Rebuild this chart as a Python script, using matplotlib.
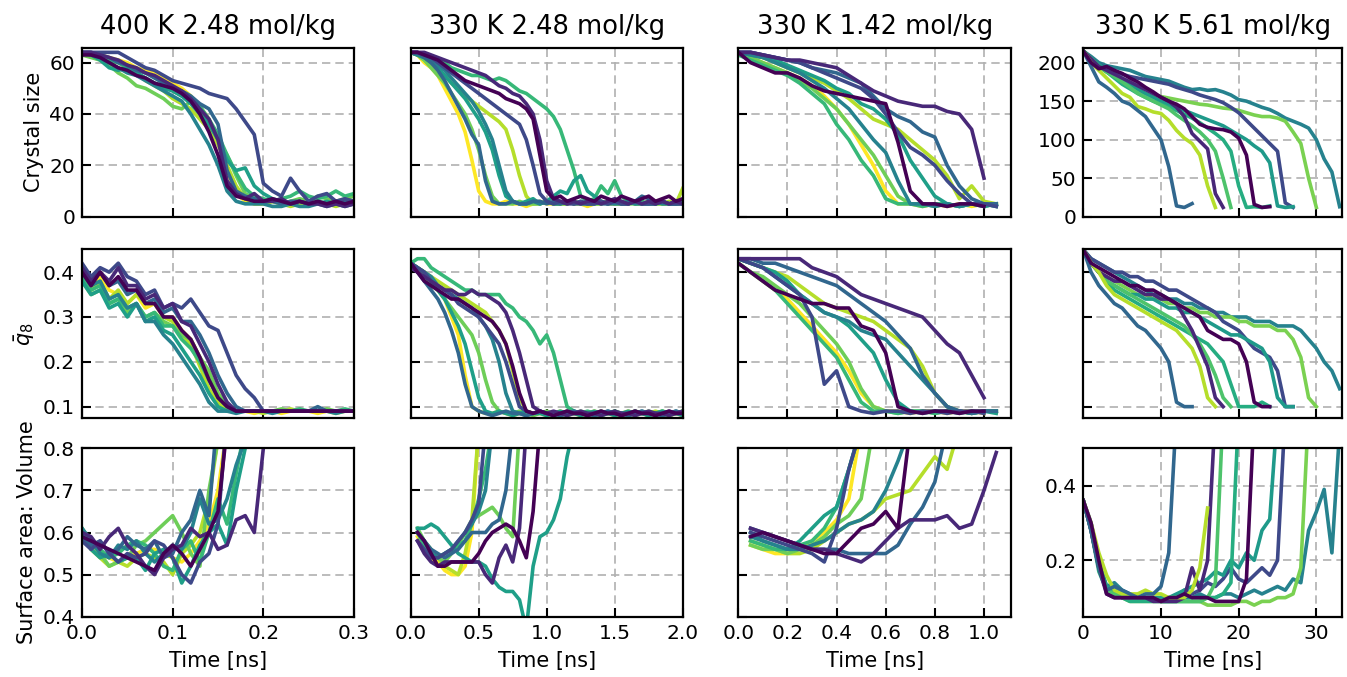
import numpy as np
import matplotlib.pyplot as plt

plt.rcParams['font.family'] = 'DejaVu Sans'

nan = np.nan

titles = ['400 K 2.48 mol/kg', '330 K 2.48 mol/kg', '330 K 1.42 mol/kg', '330 K 5.61 mol/kg']
row_labels = ['Crystal size', r'$\bar{q}_8$', 'Surface area: Volume']

# time grids (ns)
T1 = [0.00, 0.01, 0.02, 0.03, 0.04, 0.05, 0.06, 0.07, 0.08, 0.09, 0.10, 0.11, 0.12, 0.13, 0.14, 0.15,
      0.16, 0.17, 0.18, 0.19, 0.20, 0.21, 0.22, 0.23, 0.24, 0.25, 0.26, 0.27, 0.28, 0.29, 0.30]
T2 = [0.00, 0.05, 0.10, 0.15, 0.20, 0.25, 0.30, 0.35, 0.40, 0.45, 0.50, 0.55, 0.60, 0.65, 0.70, 0.75,
      0.80, 0.85, 0.90, 0.95, 1.00, 1.05, 1.10, 1.15, 1.20, 1.25, 1.30, 1.35, 1.40, 1.45, 1.50, 1.55,
      1.60, 1.65, 1.70, 1.75, 1.80, 1.85, 1.90, 1.95, 2.00]
T3 = [0.00, 0.05, 0.10, 0.15, 0.20, 0.25, 0.30, 0.35, 0.40, 0.45, 0.50, 0.55, 0.60, 0.65, 0.70, 0.75,
      0.80, 0.85, 0.90, 0.95, 1.00, 1.05]
T4 = [0, 1, 2, 3, 4, 5, 6, 7, 8, 9, 10, 11, 12, 13, 14, 15, 16, 17, 18, 19, 20, 21, 22, 23, 24, 25,
      26, 27, 28, 29, 30, 31, 32, 33]

# trajectory colours (fraction of viridis)
C1 = [1.0, 0.89, 0.78, 0.67, 0.56, 0.44, 0.33, 0.22, 0.11, 0.0]
C2 = [1.0, 0.89, 0.78, 0.67, 0.56, 0.44, 0.33, 0.22, 0.11, 0.0]
C3 = [1.0, 0.89, 0.78, 0.67, 0.56, 0.44, 0.33, 0.22, 0.11, 0.0]
C4 = [0.44, 0.80, 0.22, 0.54, 0.62, 0.72, 0.11, 0.89, 0.33, 0.0]

# ---- 400 K 2.48 mol/kg
S1 = [
    [64, 63, 63, 62, 61, 60, 58, 57, 56, 54, 52, 50, 47, 43, 38, 30, 18, 9, 6, 5, 5, 6, 5, 5, 5, 6, 5, 5, 6, 5, 5],
    [63, 63, 62, 61, 60, 58, 56, 53, 51, 49, 46, 44, 42, 38, 34, 28, 20, 12, 7, 5, 5, 6, 5, 4, 5, 5, 6, 5, 4, 5, 5],
    [63, 62, 61, 59, 56, 54, 51, 50, 48, 46, 43, 42, 45, 42, 37, 30, 24, 16, 9, 7, 6, 6, 5, 6, 7, 6, 8, 7, 6, 7, 8],
    [64, 63, 62, 61, 60, 58, 56, 54, 52, 51, 49, 47, 46, 43, 38, 32, 24, 17, 11, 8, 7, 6, 7, 8, 10, 8, 7, 8, 10, 8, 9],
    [64, 63, 61, 58, 57, 58, 56, 54, 52, 50, 49, 47, 44, 40, 36, 30, 22, 18, 19, 12, 9, 7, 6, 5, 6, 5, 5, 6, 5, 5, 6],
    [64, 63, 62, 60, 58, 56, 55, 53, 51, 49, 47, 45, 40, 34, 28, 20, 10, 6, 5, 5, 5, 4, 4, 5, 4, 4, 5, 4, 5, 4, 5],
    [64, 64, 63, 62, 60, 59, 57, 56, 54, 52, 50, 49, 47, 44, 42, 36, 18, 10, 8, 7, 6, 6, 5, 6, 6, 5, 6, 5, 6, 6, 6],
    [64, 64, 64, 64, 64, 62, 60, 58, 57, 55, 53, 52, 51, 50, 48, 47, 46, 42, 37, 32, 13, 10, 8, 15, 10, 6, 8, 9, 6, 7, 6],
    [64, 64, 63, 62, 61, 59, 58, 56, 55, 53, 51, 49, 46, 42, 38, 30, 14, 9, 7, 9, 6, 6, 7, 5, 6, 5, 5, 4, 5, 4, 5],
    [63, 63, 62, 60, 58, 57, 55, 54, 52, 51, 50, 48, 45, 40, 33, 24, 12, 8, 7, 6, 6, 7, 6, 5, 6, 5, 6, 5, 6, 5, 6],
]
Q1 = [
    [.40, .37, .39, .36, .35, .33, .35, .32, .33, .30, .30, .27, .25, .21, .17, .13, .10, .09, .09, .085, .09, .09, .085, .09, .09, .09, .085, .09, .09, .09, .09],
    [.39, .36, .38, .34, .36, .33, .35, .33, .33, .30, .29, .26, .24, .19, .14, .11, .09, .09, .09, .09, .085, .09, .09, .095, .09, .09, .09, .09, .085, .09, .09],
    [.38, .35, .36, .33, .34, .31, .33, .30, .31, .29, .28, .26, .25, .21, .18, .13, .10, .09, .09, .09, .09, .09, .095, .09, .09, .09, .09, .095, .09, .09, .09],
    [.39, .36, .37, .33, .34, .32, .33, .30, .31, .28, .28, .25, .23, .20, .16, .12, .10, .09, .09, .09, .09, .09, .09, .09, .095, .09, .09, .09, .09, .095, .09],
    [.38, .35, .36, .32, .33, .30, .33, .29, .30, .27, .26, .23, .20, .17, .13, .10, .09, .09, .09, .09, .09, .09, .09, .09, .09, .09, .09, .09, .09, .09, .09],
    [.40, .37, .38, .34, .35, .32, .33, .29, .29, .26, .24, .21, .18, .15, .11, .09, .09, .085, .09, .09, .09, .085, .09, .09, .09, .09, .09, .09, .085, .09, .09],
    [.41, .38, .40, .37, .38, .35, .36, .33, .34, .31, .32, .29, .29, .26, .22, .17, .13, .10, .09, .09, .09, .09, .09, .09, .09, .09, .10, .09, .09, .09, .09],
    [.42, .39, .41, .40, .42, .39, .38, .35, .36, .32, .33, .32, .34, .31, .28, .27, .22, .17, .14, .12, .09, .09, .09, .09, .09, .09, .09, .09, .09, .09, .09],
    [.41, .38, .40, .38, .41, .37, .37, .34, .35, .32, .33, .29, .28, .24, .20, .15, .11, .09, .09, .09, .09, .09, .09, .09, .09, .09, .09, .09, .09, .09, .09],
    [.40, .37, .40, .37, .39, .36, .36, .33, .33, .30, .30, .27, .25, .21, .16, .12, .10, .09, .09, .09, .09, .09, .09, .09, .09, .09, .09, .09, .09, .09, .09],
]
A1 = [
    [.60, .57, .55, .54, .53, .54, .55, .56, .56, .55, .54, .53, .55, .58, .62, .70, .85],
    [.60, .56, .54, .52, .53, .52, .54, .55, .54, .53, .50, .55, .57, .60, .68, .82],
    [.61, .57, .55, .52, .53, .54, .57, .58, .60, .62, .64, .60, .55, .52, .70, .82],
    [.61, .58, .56, .54, .55, .57, .58, .57, .55, .52, .51, .56, .58, .53, .60, .68, .62, .74, .85],
    [.60, .56, .54, .55, .53, .54, .54, .51, .55, .56, .54, .48, .52, .57, .60, .62, .57, .70, .80, .85],
    [.61, .58, .55, .54, .57, .56, .58, .55, .53, .55, .57, .56, .60, .68, .62, .63, .68, .76, .82],
    [.59, .57, .58, .55, .56, .59, .57, .56, .58, .54, .55, .60, .63, .70, .64, .90],
    [.58, .56, .58, .55, .53, .55, .54, .55, .58, .57, .54, .50, .48, .53, .55, .62, .88],
    [.60, .59, .56, .59, .61, .57, .55, .52, .50, .54, .56, .57, .61, .59, .60, .56, .57, .63, .64, .60, .80],
    [.59, .58, .57, .56, .55, .54, .53, .52, .51, .55, .57, .55, .52, .56, .60, .65, .85],
]

# ---- 330 K 2.48 mol/kg
S2 = [
    [64, 63, 60, 58, 55, 50, 45, 40, 33, 22, 10, 6, 5, 5, 6, 5, 5, 4, 5, 6, 5, 5, 5, 6, 5, 5, 4, 5, 6, 5, 5, 5, 6, 5, 5, 5, 6, 5, 5, 5, 5],
    [64, 63, 61, 59, 57, 55, 52, 50, 47, 45, 43, 41, 39, 37, 34, 26, 16, 8, 5, 5, 6, 5, 5, 5, 6, 5, 5, 5, 5, 6, 5, 5, 5, 6, 5, 6, 5, 5, 6, 5, 11],
    [64, 63, 61, 58, 55, 52, 48, 44, 40, 34, 26, 16, 8, 5, 5, 5, 6, 5, 5, 5, 6, 5, 5, 5, 6, 5, 5, 5, 5, 6, 5, 6, 5, 5, 5, 6, 5, 5, 5, 5, 5],
    [64, 63, 63, 62, 61, 60, 58, 57, 56, 55, 55, 54, 53, 54, 53, 51, 49, 48, 46, 44, 42, 39, 34, 26, 18, 8, 6, 7, 12, 9, 14, 8, 6, 5, 6, 5, 5, 6, 5, 5, 6],
    [64, 63, 62, 60, 58, 55, 52, 49, 46, 42, 38, 33, 26, 16, 8, 6, 5, 6, 7, 5, 6, 8, 10, 9, 14, 16, 10, 8, 6, 5, 6, 5, 5, 6, 5, 5, 5, 6, 5, 5, 6],
    [64, 63, 62, 61, 59, 57, 54, 51, 48, 45, 41, 36, 30, 20, 10, 6, 5, 5, 6, 5, 6, 5, 5, 6, 5, 6, 5, 5, 6, 5, 5, 5, 6, 5, 5, 5, 6, 5, 5, 5, 5],
    [64, 64, 62, 60, 57, 53, 48, 43, 38, 32, 28, 14, 6, 5, 5, 6, 5, 5, 6, 6, 5, 6, 5, 6, 5, 5, 5, 6, 5, 5, 6, 5, 5, 6, 8, 7, 5, 6, 5, 6, 5],
    [64, 64, 63, 62, 60, 58, 56, 54, 52, 50, 48, 46, 44, 42, 40, 38, 36, 30, 20, 9, 6, 5, 6, 5, 5, 6, 5, 5, 6, 5, 6, 5, 5, 6, 5, 5, 5, 6, 5, 5, 5],
    [64, 64, 64, 63, 62, 61, 60, 59, 58, 57, 56, 55, 53, 51, 50, 48, 47, 44, 40, 30, 14, 7, 6, 5, 6, 5, 6, 6, 5, 6, 7, 6, 5, 6, 5, 6, 5, 6, 5, 6, 5],
    [64, 64, 63, 62, 61, 59, 57, 55, 53, 52, 51, 50, 49, 48, 46, 45, 44, 42, 38, 24, 10, 7, 8, 6, 7, 8, 7, 6, 8, 7, 6, 8, 7, 6, 7, 8, 6, 7, 8, 6, 7],
]
Q2 = [
    [.42, .41, .40, .38, .36, .34, .30, .26, .17, .10, .09, .085, .085, .09, .085, .08, .085, .09, .085, .085, .08, .085, .09, .085, .085, .08, .085, .09, .085, .085, .08, .085, .09, .085, .085, .08, .085, .09, .085, .085, .08],
    [.42, .41, .40, .39, .38, .37, .36, .35, .34, .33, .32, .31, .29, .27, .24, .18, .12, .09, .085, .09, .085, .08, .085, .09, .085, .085, .08, .085, .09, .085, .085, .08, .085, .09, .085, .085, .09, .085, .08, .085, .09],
    [.42, .41, .39, .37, .36, .34, .32, .30, .28, .26, .22, .16, .11, .09, .085, .085, .09, .085, .08, .085, .09, .085, .085, .08, .085, .09, .085, .085, .08, .085, .09, .085, .085, .08, .085, .09, .085, .085, .08, .085, .09],
    [.42, .43, .43, .41, .40, .39, .38, .37, .36, .36, .35, .35, .35, .35, .33, .32, .30, .29, .27, .24, .26, .22, .16, .10, .09, .085, .09, .085, .08, .085, .09, .085, .085, .09, .085, .08, .085, .09, .085, .085, .09],
    [.42, .41, .40, .38, .36, .34, .31, .28, .24, .18, .12, .09, .085, .09, .085, .08, .085, .09, .085, .085, .08, .085, .09, .085, .085, .08, .085, .09, .085, .085, .08, .085, .09, .085, .085, .08, .085, .09, .085, .085, .08],
    [.42, .41, .40, .39, .37, .36, .35, .34, .33, .32, .30, .28, .25, .20, .13, .09, .085, .08, .085, .09, .085, .085, .08, .085, .09, .085, .085, .08, .085, .09, .085, .085, .08, .085, .09, .085, .085, .08, .085, .09, .085],
    [.42, .40, .38, .36, .34, .31, .27, .22, .15, .10, .09, .085, .08, .085, .09, .085, .085, .08, .085, .09, .085, .085, .08, .085, .09, .085, .085, .08, .085, .09, .085, .085, .08, .085, .09, .085, .085, .08, .085, .09, .085],
    [.42, .41, .40, .38, .37, .36, .35, .33, .32, .31, .30, .28, .26, .24, .20, .15, .10, .09, .085, .09, .085, .08, .085, .09, .085, .085, .08, .085, .09, .085, .085, .08, .085, .09, .085, .085, .08, .085, .09, .085, .085],
    [.41, .40, .39, .38, .37, .36, .36, .35, .35, .36, .35, .35, .34, .33, .31, .27, .22, .16, .10, .09, .085, .09, .085, .08, .085, .09, .085, .085, .08, .085, .09, .085, .085, .08, .085, .09, .085, .085, .08, .085, .09],
    [.42, .40, .38, .37, .36, .35, .34, .34, .33, .32, .31, .30, .29, .27, .24, .19, .13, .09, .085, .09, .085, .08, .085, .09, .085, .085, .08, .085, .09, .085, .085, .08, .085, .09, .085, .085, .08, .085, .09, .085, .085],
]
A2 = [
    [nan, .59, .56, .54, .53, .51, .50, .50, .52, .60, .85],
    [nan, .60, .57, .55, .54, .52, .51, .50, .55, .63, .85],
    [nan, .61, .58, .56, .54, .53, .55, .57, .60, .63, .64, .65, .66, .64, .61, .59, .85],
    [nan, .60, .57, .55, .54, .55, .56, .57, .58, .62, .68, .75, .85],
    [nan, .61, .61, .62, .61, .59, .57, .55, .54, .53, .53, .52, .49, .47, .46, .46, .44, .37, .52, .59, .60, .63, .68, .78, .85],
    [nan, .60, .58, .55, .54, .55, .56, .58, .60, .62, .65, .70, .85],
    [nan, .60, .58, .56, .55, .54, .55, .56, .58, .60, .60, .60, .62, .63, .70, .85],
    [nan, .58, .56, .54, .54, .55, .56, .58, .60, .63, .67, .85],
    [nan, .58, .55, .53, .52, .53, .53, .53, .53, .53, .53, .50, .48, .54, .57, .53, .61, .85],
    [nan, .60, .58, .55, .52, .52, .53, .53, .53, .53, .55, .58, .60, .61, .62, .61, .58, .54, .65, .85],
]

# ---- 330 K 1.42 mol/kg
S3 = [
    [64, 62, 60, 58, 56, 54, 51, 47, 42, 36, 28, 20, 10, 5, 5, 4, 5, 4, 5, 4, 5],
    [64, 63, 62, 60, 58, 56, 54, 52, 49, 46, 42, 38, 36, 34, 30, 26, 22, 16, 7, 12, 6, 5],
    [64, 62, 60, 58, 56, 53, 50, 46, 42, 36, 30, 24, 16, 8, 5, 5, 4, 5, 4, 5, 5, 4],
    [63, 61, 59, 57, 55, 52, 48, 44, 36, 30, 22, 16, 7, 5, 5, 4, 5, 5, 4, 5, 4, 5],
    [64, 63, 62, 61, 59, 57, 55, 53, 50, 48, 44, 42, 38, 32, 22, 15, 8, 5, 4, 5, 4, 5],
    [64, 63, 62, 60, 58, 56, 53, 50, 46, 42, 36, 30, 25, 14, 5, 5, 4, 5, 4, 5, 5, 4],
    [64, 64, 63, 62, 61, 60, 58, 57, 56, 54, 52, 47, 42, 39, 37, 33, 31, 20, 12, 7, 5, 5],
    [64, 64, 63, 62, 61, 60, 58, 56, 54, 52, 50, 46, 40, 33, 27, 24, 20, 14, 9, 5, 5, 4],
    [64, 64, 63, 62, 61, 61, 60, 59, 58, 55, 52, 49, 47, 45, 44, 43, 43, 41, 40, 34, 15],
    [64, 60, 58, 56, 56, 54, 51, 49, 48, 47, 46, 45, 44, 29, 10, 5, 5, 4, 5, 5, 4],
]
Q3 = [
    [.42, .40, .38, .36, .34, .31, .28, .25, .22, .18, .13, .10, .09, .09, .085, .09, .09, .085, .09, .09, .085],
    [.43, .42, .41, .40, .39, .37, .35, .33, .32, .31, .30, .29, .27, .25, .23, .19, .13, .10, .09, .085, .09, .09],
    [.42, .40, .39, .37, .35, .33, .30, .27, .24, .20, .14, .10, .09, .085, .09, .09, .085, .09, .09, .085, .09, .09],
    [.42, .40, .38, .36, .33, .30, .27, .24, .21, .16, .11, .09, .09, .085, .09, .09, .085, .09, .09, .085, .09, .09],
    [.43, .42, .41, .40, .38, .35, .33, .31, .30, .28, .25, .22, .16, .11, .09, .085, .09, .09, .085, .09, .09, .085],
    [.43, .42, .41, .39, .37, .35, .33, .31, .30, .29, .27, .26, .25, .22, .19, .16, .13, .10, .09, .085, .09, .09],
    [.43, .43, .42, .42, .41, .40, .39, .38, .37, .35, .33, .31, .29, .26, .23, .17, .13, .10, .09, .085, .09, .09],
    [.43, .42, .41, .39, .37, .35, .30, .15, .18, .10, .09, .085, .09, .09, .085, .09, .09, .085, .09, .09, .085],
    [.43, .43, .43, .43, .43, .43, .41, .40, .39, .37, .35, .34, .33, .32, .31, .30, .27, .24, .22, .17, .12],
    [.42, .40, .38, .36, .35, .34, .33, .33, .32, .32, .28, .27, .22, .10, .09, .085, .09, .09, .085, .09, .09],
]
A3 = [
    [nan, .57, .56, .55, .55, .56, .58, .60, .63, .68, .85],
    [nan, .58, .57, .56, .55, .55, .56, .58, .60, .62, .63, .65, .68, .69, .70, .74, .78, .75, .85],
    [nan, .57, .56, .56, .55, .56, .57, .59, .62, .64, .68, .85],
    [nan, .58, .57, .56, .56, .57, .58, .61, .66, .75, .85],
    [nan, .60, .58, .57, .56, .58, .61, .64, .66, .75, .85],
    [nan, .59, .58, .57, .56, .56, .57, .58, .60, .62, .63, .65, .70, .77, .85],
    [nan, .61, .60, .59, .58, .57, .56, .56, .56, .55, .55, .55, .55, .57, .62, .66, .72, .85],
    [nan, .60, .59, .58, .57, .56, .55, .53, .61, .75, .85],
    [nan, .61, .60, .59, .58, .57, .56, .56, .55, .54, .53, .55, .58, .61, .63, .63, .63, .64, .61, .62, .70, .79],
    [nan, .59, .60, .59, .58, .57, .56, .55, .55, .58, .61, .62, .65, .61, .85],
]

# ---- 330 K 5.61 mol/kg
S4 = [
    [215, 208, 200, 196, 194, 192, 190, 186, 182, 180, 178, 176, 172, 168, 165, 166, 164, 165, 162, 158, 152, 150, 146, 142, 139, 134, 128, 124, 120, 115, 100, 75, 58, 13],
    [215, 205, 195, 188, 182, 176, 170, 165, 160, 158, 156, 154, 152, 150, 148, 146, 145, 143, 141, 140, 138, 135, 132, 130, 130, 128, 124, 110, 95, 50, 12],
    [215, 205, 198, 192, 188, 185, 182, 180, 178, 176, 174, 172, 168, 165, 162, 158, 155, 152, 148, 142, 135, 125, 115, 105, 95, 85, 18, 12],
    [215, 205, 198, 190, 184, 178, 172, 166, 160, 155, 150, 146, 142, 138, 134, 130, 126, 122, 118, 112, 106, 100, 92, 85, 70, 14, 12, 13],
    [215, 205, 195, 188, 180, 172, 166, 160, 155, 150, 146, 142, 138, 133, 128, 122, 115, 108, 100, 85, 40, 12, 13, 12, 14],
    [215, 205, 195, 188, 182, 175, 168, 160, 155, 150, 145, 140, 132, 125, 118, 110, 100, 85, 50, 12],
    [215, 205, 195, 190, 185, 180, 175, 170, 165, 160, 155, 150, 142, 130, 108, 98, 88, 30, 12],
    [215, 200, 190, 180, 170, 160, 155, 143, 140, 136, 134, 125, 112, 102, 95, 80, 40, 12],
    [215, 195, 175, 168, 160, 150, 146, 138, 130, 115, 100, 65, 14, 12, 17],
    [215, 200, 192, 195, 190, 186, 180, 175, 168, 162, 155, 150, 146, 140, 130, 120, 116, 114, 113, 110, 102, 80, 16, 12, 13],
]
Q4 = [
    [.45, .43, .42, .41, .40, .39, .38, .37, .36, .35, .35, .34, .34, .33, .33, .32, .32, .31, .31, .30, .30, .30, .29, .29, .29, .28, .28, .28, .27, .25, .23, .20, .18, .14],
    [.45, .42, .40, .39, .38, .37, .36, .35, .35, .34, .34, .33, .33, .32, .32, .31, .31, .30, .30, .30, .29, .29, .28, .28, .28, .27, .27, .25, .21, .12, .10],
    [.45, .43, .42, .41, .40, .40, .39, .39, .38, .38, .37, .36, .36, .35, .34, .33, .32, .31, .29, .28, .27, .25, .23, .22, .21, .18, .10, .10],
    [.45, .42, .40, .38, .37, .36, .35, .35, .34, .34, .33, .32, .32, .31, .31, .30, .29, .28, .27, .26, .26, .25, .24, .23, .20, .12, .10, .10],
    [.45, .42, .40, .38, .36, .35, .34, .33, .32, .31, .30, .29, .28, .27, .26, .25, .24, .22, .20, .15, .10, .10, .10, .11, .10],
    [.45, .42, .40, .38, .37, .36, .35, .34, .33, .32, .31, .30, .29, .28, .26, .24, .21, .17, .12, .10],
    [.45, .42, .40, .39, .38, .38, .37, .36, .35, .35, .34, .34, .33, .30, .27, .23, .19, .12, .10],
    [.45, .42, .40, .37, .35, .34, .33, .32, .31, .30, .29, .28, .27, .25, .23, .19, .12, .10],
    [.45, .40, .37, .35, .33, .32, .30, .28, .27, .25, .23, .20, .11, .10, .10],
    [.45, .42, .41, .40, .39, .38, .37, .37, .36, .36, .35, .34, .33, .32, .31, .30, .27, .26, .25, .25, .24, .20, .11, .10, .10],
]
A4 = [
    [.36, .30, .20, .13, .14, .12, .11, .10, .10, .10, .09, .09, .09, .10, .10, .11, .10, .10, .11, .11, .10, .11, .12, .11, .12, .13, .12, .15, .14, .28, .33, .39, .22, .55],
    [.36, .29, .19, .12, .11, .10, .09, .09, .09, .09, .09, .09, .09, .09, .09, .09, .08, .08, .08, .08, .09, .09, .08, .09, .09, .10, .10, .11, .18, .60],
    [.36, .28, .18, .12, .11, .10, .10, .10, .10, .10, .10, .10, .10, .12, .11, .12, .14, .13, .15, .18, .15, .14, .16, .18, .16, .20, .60],
    [.36, .29, .19, .13, .12, .11, .10, .10, .10, .10, .10, .10, .11, .12, .13, .14, .15, .17, .16, .20, .18, .22, .20, .28, .31, .60],
    [.36, .28, .17, .12, .11, .10, .09, .09, .09, .09, .09, .09, .09, .09, .09, .09, .10, .10, .11, .14, .60],
    [.36, .28, .18, .12, .11, .10, .10, .10, .10, .10, .09, .09, .09, .09, .09, .09, .10, .14, .60],
    [.36, .28, .18, .11, .10, .10, .10, .10, .10, .09, .09, .09, .09, .10, .18, .12, .20, .60],
    [.36, .30, .22, .16, .12, .11, .11, .11, .12, .11, .11, .10, .10, .10, .12, .18, .34],
    [.36, .28, .18, .12, .13, .12, .11, .10, .11, .11, .13, .22, .60],
    [.36, .30, .20, .11, .10, .10, .10, .10, .10, .10, .09, .10, .10, .11, .10, .10, .10, .09, .09, .09, .09, .15, .60],
]

times = [T1, T2, T3, T4]
colours = [C1, C2, C3, C4]
data = [[S1, S2, S3, S4], [Q1, Q2, Q3, Q4], [A1, A2, A3, A4]]

xlims = [(0, 0.3), (0, 2.0), (0, 1.11), (0, 33.3)]
xticks = [[0, 0.1, 0.2, 0.3], [0, 0.5, 1.0, 1.5, 2.0], [0, 0.2, 0.4, 0.6, 0.8, 1.0], [0, 10, 20, 30]]
ylims = [[(0, 65.7)] * 3 + [(0, 219)],
         [(0.074, 0.451)] * 4,
         [(0.4, 0.8)] * 3 + [(0.049, 0.5)]]
yticks = [[[0, 20, 40, 60]] * 3 + [[0, 50, 100, 150, 200]],
          [[0.1, 0.2, 0.3, 0.4]] * 4,
          [[0.4, 0.5, 0.6, 0.7, 0.8]] * 3 + [[0.2, 0.4]]]
show_ylab = [[True, False, False, True],
             [True, False, False, False],
             [True, False, False, True]]

W, H = 1347, 677
fig = plt.figure(figsize=(W / 100, H / 100), dpi=100)
col_px = [(82, 354), (410.7, 682.7), (738.3, 1011), (1083.3, 1342)]
row_px = [(48, 216.7), (249.3, 418.3), (448.3, 616.7)]

cmap = plt.get_cmap('viridis')

for r in range(3):
    for c in range(4):
        x0, x1 = col_px[c]
        y0, y1 = row_px[r]
        ax = fig.add_axes([x0 / W, 1 - y1 / H, (x1 - x0) / W, (y1 - y0) / H])
        t = times[c]
        for k, vals in enumerate(data[r][c]):
            n = min(len(vals), len(t))
            ax.plot(t[:n], vals[:n], color=cmap(colours[c][k]), lw=2.6)
        ax.set_xlim(*xlims[c])
        ax.set_ylim(*ylims[r][c])
        ax.set_xticks(xticks[c])
        ax.set_yticks(yticks[r][c])
        ax.grid(True, ls='--', color='#b0b0b0', lw=1.2, dashes=(5, 3))
        ax.set_axisbelow(True)
        ax.tick_params(direction='in', length=6.5, width=1.5, labelsize=14.5, pad=5,
                       labelbottom=(r == 2), labelleft=show_ylab[r][c])
        for sp in ax.spines.values():
            sp.set_linewidth(1.6)
        if r == 0:
            ax.set_title(titles[c], fontsize=18.5, pad=10)
        if r == 2:
            ax.set_xlabel('Time [ns]', fontsize=15, labelpad=6)
        if c == 0:
            ax.set_ylabel(row_labels[r], fontsize=15, labelpad=4)

fig.savefig('out.png', dpi=100)
